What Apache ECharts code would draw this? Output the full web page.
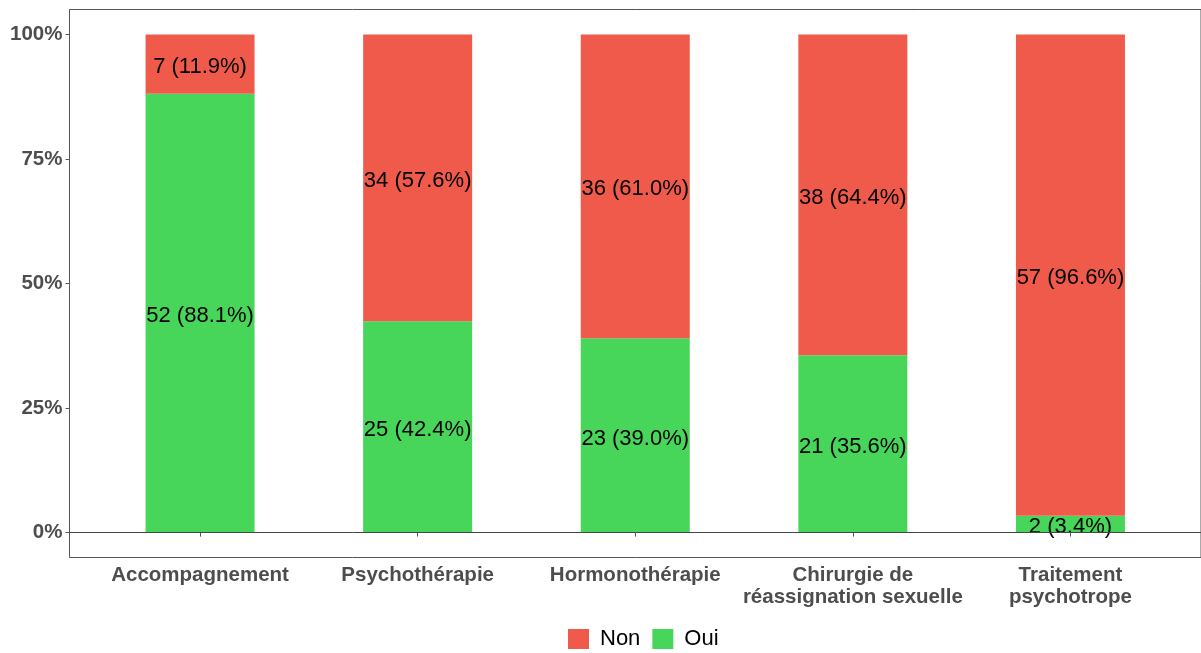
<!DOCTYPE html>
<html>
<head>
<meta charset="utf-8">
<script src="https://cdn.jsdelivr.net/npm/echarts@6/dist/echarts.min.js"></script>
<style>html,body{margin:0;padding:0;background:#fff}#c{width:1201px;height:653px}</style>
</head>
<body>
<div id="c"></div>
<script>
var categories = ["Accompagnement", "Psychothérapie", "Hormonothérapie", "Chirurgie de\nréassignation sexuelle", "Traitement\npsychotrope"];
var ouiCounts = [52, 25, 23, 21, 2];
var nonCounts = [7, 34, 36, 38, 57];
var ouiPct = [88.1, 42.4, 39.0, 35.6, 3.4];
var nonPct = [11.9, 57.6, 61.0, 64.4, 96.6];
var yTicks = [0, 25, 50, 75, 100];

var positions = categories.map(function (c, i) { return i + 1; });
var font = 'Liberation Sans, Arial, sans-serif';

function mk(name, pct, counts, color) {
  return {
    name: name,
    type: 'bar',
    stack: 'tot',
    barWidth: 109,
    encode: { x: 1, y: 0 },
    itemStyle: { color: color },
    data: pct.map(function (p, i) { return { value: [p, positions[i]], cnt: counts[i] }; }),
    label: {
      show: true,
      position: 'inside',
      offset: [0, 3],
      color: '#000',
      fontFamily: font,
      fontSize: 22,
      formatter: function (p) { return p.data.cnt + ' (' + p.data.value[0].toFixed(1) + '%)'; }
    },
    emphasis: { disabled: true }
  };
}

var chart = echarts.init(document.getElementById('c'), null, { renderer: 'canvas' });
chart.setOption({
  animation: false,
  legend: {
    data: ['Non', 'Oui'],
    top: 623,
    left: 563,
    itemWidth: 21,
    itemHeight: 20,
    itemGap: 12,
    icon: 'rect',
    textStyle: { fontFamily: font, fontSize: 22, color: '#000', padding: [0, 0, 0, 6] }
  },
  grid: {
    left: 69.5, top: 9.5, width: 1135, height: 548,
    show: true, borderColor: '#555', borderWidth: 1, backgroundColor: '#fff'
  },
  xAxis: {
    type: 'value', min: 0.4, max: 5.6,
    splitLine: { show: false },
    axisLine: { show: false },
    axisTick: { show: true, customValues: positions, length: 4, lineStyle: { color: '#555' } },
    axisLabel: {
      customValues: positions,
      formatter: function (v) { return categories[Math.round(v) - 1] || ''; },
      fontFamily: font, fontWeight: 'bold', fontSize: 20.5, color: '#4d4d4d',
      lineHeight: 22, margin: 7
    }
  },
  yAxis: {
    type: 'value', min: -5, max: 105,
    splitLine: { show: false },
    axisLine: { show: false },
    axisTick: { show: true, customValues: yTicks, length: 4, lineStyle: { color: '#555' } },
    axisLabel: {
      customValues: yTicks,
      formatter: function (v) { return v + '%'; },
      fontFamily: font, fontWeight: 'bold', fontSize: 20.5, color: '#4d4d4d', margin: 7
    }
  },
  series: [
    Object.assign(mk('Oui', ouiPct, ouiCounts, '#47D65A'), {
      markLine: {
        silent: true, symbol: 'none', label: { show: false },
        lineStyle: { color: '#444', type: 'solid', width: 1 },
        data: [{ yAxis: 0 }]
      }
    }),
    mk('Non', nonPct, nonCounts, '#EF5A4B')
  ]
});
</script>
</body>
</html>
